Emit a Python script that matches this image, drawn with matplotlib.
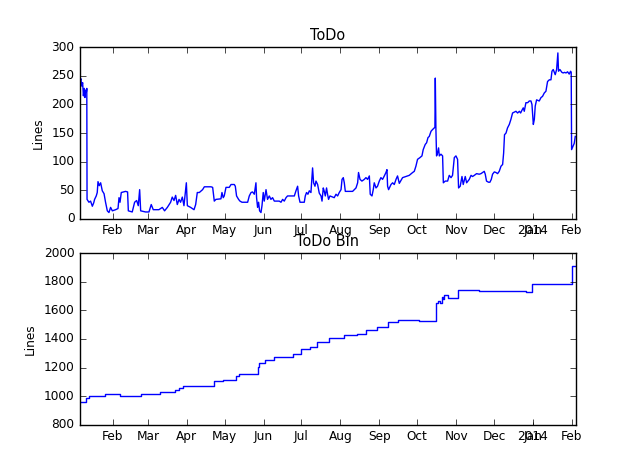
import datetime as dt
import matplotlib
matplotlib.use('Agg')
import matplotlib.pyplot as plt
import matplotlib.dates as mdates

# days since 2013-01-01, and lines of ToDo
todo_day = [5.1, 5.8, 6.5, 7.2, 7.8, 8.5, 9.0, 9.6, 10.2, 10.5, 10.7, 12.2, 13.5,
            14.9, 16.0, 16.7, 18.0, 18.8, 19.4, 20.4, 21.5, 22.8, 24.2, 25.4, 26.8,
            28.1, 29.4, 30.8, 33.4, 35.3, 36.1, 36.9, 37.9, 41.3, 42.9, 43.5, 46.6,
            48.5, 50.1, 51.4, 52.5, 53.3, 57.2, 59.9, 61.7, 63.3, 67.8, 70.5, 72.3,
            74.5, 77.1, 78.4, 79.8, 81.1, 82.4, 83.8, 85.0, 86.4, 87.7, 89.6, 90.4,
            93.0, 95.7, 97.0, 98.3, 99.9, 102.5, 103.9, 109.2, 110.5, 111.8, 113.1,
            117.1, 117.9, 118.9, 119.7, 121.1, 123.7, 125.1, 127.7, 128.5, 129.5,
            131.1, 132.2, 133.8, 138.3, 139.6, 141.0, 142.2, 143.6, 144.9, 145.4,
            146.2, 147.0, 147.8, 148.9, 149.7, 150.7, 151.5, 152.9, 154.1, 155.5,
            156.8, 158.1, 159.5, 163.4, 164.8, 166.1, 167.4, 168.8, 170.0, 175.4,
            176.7, 178.0, 178.8, 179.9, 183.3, 184.1, 185.1, 186.2, 187.3, 188.6,
            189.9, 190.7, 191.8, 192.6, 193.9, 195.2, 196.6, 197.4, 198.4, 199.2,
            200.0, 201.0, 201.8, 202.6, 203.7, 207.1, 208.5, 209.8, 211.1, 212.5,
            213.3, 214.3, 215.1, 215.9, 221.7, 223.0, 224.4, 225.7, 226.4, 227.6,
            229.1, 231.0, 232.3, 233.6, 235.0, 235.7, 237.1, 238.1, 238.9, 240.3,
            241.5, 242.9, 244.2, 245.5, 246.9, 248.2, 249.0, 249.5, 250.3, 252.2,
            253.5, 254.8, 256.2, 257.4, 258.8, 261.4, 264.1, 266.7, 269.4, 270.7,
            272.0, 273.3, 275.2, 276.8, 277.8, 279.4, 280.5, 281.6, 282.6, 284.0,
            285.2, 286.6, 287.1, 287.4, 287.9, 288.4, 289.2, 290.0, 290.6, 291.9,
            293.2, 293.8, 295.3, 297.2, 298.5, 299.9, 301.1, 302.5, 303.8, 305.1,
            305.9, 307.2, 308.6, 309.6, 311.2, 312.3, 314.4, 315.8, 317.0, 318.4,
            320.2, 322.3, 323.7, 325.0, 326.3, 327.1, 328.1, 329.7, 330.8, 331.9,
            332.9, 334.3, 335.6, 336.9, 338.2, 339.6, 340.9, 341.7, 342.4, 343.6,
            344.8, 346.2, 347.5, 348.8, 351.5, 352.8, 354.2, 355.2, 356.3, 357.3,
            358.1, 359.4, 360.8, 362.1, 363.4, 364.2, 365.3, 366.1, 366.8, 367.9,
            370.0, 371.4, 372.6, 374.0, 375.3, 376.6, 378.0, 379.3, 380.1, 381.1,
            382.7, 383.8, 384.8, 385.3, 386.4, 388.0, 389.0, 390.1, 391.3, 392.5,
            393.8, 394.9, 395.4, 395.7, 396.8, 397.8, 398.6]
todo_val = [240, 245, 232, 238, 215, 228, 212, 225, 222, 228, 34, 29, 31,
            22, 28, 34, 40, 46, 65, 58, 63, 49, 44, 29, 14,
            11, 20, 14, 16, 18, 37, 29, 46, 48, 47, 14, 12,
            29, 32, 23, 51, 14, 12, 12, 25, 16, 16, 20, 14,
            20, 29, 38, 32, 41, 25, 34, 29, 38, 23, 63, 23,
            20, 16, 25, 46, 46, 51, 56, 56, 55, 31, 34,
            35, 46, 37, 40, 55, 55, 60, 60, 57, 40,
            34, 31, 29, 29, 40, 46, 47, 43, 63, 37,
            20, 29, 14, 11, 23, 46, 31, 51, 34, 40,
            34, 37, 31, 31, 29, 34, 31, 37, 40, 40,
            49, 57, 40, 29, 29, 40, 46, 43, 49, 46,
            89, 63, 57, 66, 60, 45, 40, 31, 54, 48,
            40, 54, 43, 34, 40, 37, 43, 40, 46, 51,
            69, 72, 63, 48, 48, 51, 54, 63, 81, 69,
            66, 69, 72, 69, 75, 43, 40, 51, 63, 54,
            57, 66, 72, 69, 75, 81, 86, 57, 51, 60,
            63, 60, 69, 75, 62, 72, 74, 76, 81, 83,
            92, 104, 107, 110, 121, 130, 133, 142, 144, 153,
            156, 159, 160, 246, 156, 110, 115, 124, 110, 113,
            110, 63, 66, 66, 76, 72, 76, 107, 110, 104,
            54, 57, 74, 60, 74, 63, 69, 76, 74, 76,
            79, 78, 79, 81, 83, 78, 66, 64, 64, 69,
            78, 82, 81, 79, 83, 92, 95, 115, 147, 150,
            159, 165, 174, 185, 188, 185, 188, 185, 190, 194,
            188, 203, 203, 206, 206, 200, 165, 174, 197, 208,
            206, 212, 214, 220, 223, 240, 243, 243, 258, 261,
            252, 261, 290, 258, 261, 256, 255, 256, 255, 257,
            253, 258, 256, 121, 127, 132, 144]

# ToDo Bin: step changes (day since 2013-01-01, lines)
bin_day = [5.1, 9.9, 12.5, 25.2, 32.4, 36.9, 53.6, 68.7, 80.8, 84.0, 87.2,
           111.2, 118.4, 129.0, 131.7, 146.2, 147.6, 152.3, 159.5, 174.0,
           180.7, 187.8, 193.6, 203.1, 215.0, 225.3, 232.5, 241.2, 249.5,
           257.4, 274.1, 287.9, 289.2, 291.4, 293.0, 293.8, 294.6, 297.2,
           305.2, 322.3, 359.4, 364.2, 396.0, 399.2]
bin_val = [960, 990, 1000, 1014, 1018, 1000, 1014, 1026, 1042, 1058, 1070,
           1105, 1112, 1140, 1154, 1201, 1229, 1253, 1276, 1292,
           1328, 1346, 1381, 1407, 1428, 1435, 1463, 1482, 1521,
           1533, 1528, 1651, 1663, 1651, 1697, 1680, 1705, 1690,
           1744, 1735, 1728, 1784, 1907, 1907]

base = dt.datetime(2013, 1, 1)
todo_dates = [base + dt.timedelta(days=d) for d in todo_day]
bin_dates = [base + dt.timedelta(days=d) for d in bin_day]
x0 = base + dt.timedelta(days=5.1)
x1 = base + dt.timedelta(days=399.2)
year_tick = dt.datetime(2014, 1, 1)

plt.style.use('classic')
plt.rcParams['font.size'] = 8.7
fig, axes = plt.subplots(2, 1, figsize=(6.4, 4.72), dpi=100)
fig.patch.set_facecolor('white')


def setup_axis(ax):
    ax.set_xlim(x0, x1)
    ax.xaxis.remove_overlapping_locs = False
    ax.xaxis.set_major_locator(mdates.MonthLocator())
    ax.xaxis.set_major_formatter(mdates.DateFormatter('%b'))
    # year label sits on top of the Jan label, like the old date formatter
    ax.set_xticks([mdates.date2num(year_tick)], minor=True)
    ax.set_xticklabels(['2014'], minor=True)
    ax.set_ylabel('Lines')


ax = axes[0]
ax.plot(todo_dates, todo_val, color='b', lw=1.0)
setup_axis(ax)
ax.set_ylim(0, 300)
ax.set_title('ToDo')

ax2 = axes[1]
ax2.plot(bin_dates, bin_val, color='b', lw=1.0, drawstyle='steps-post')
setup_axis(ax2)
ax2.set_ylim(800, 2000)
ax2.set_title('ToDo Bin')

fig.savefig('out.png', dpi=100, facecolor='white')
